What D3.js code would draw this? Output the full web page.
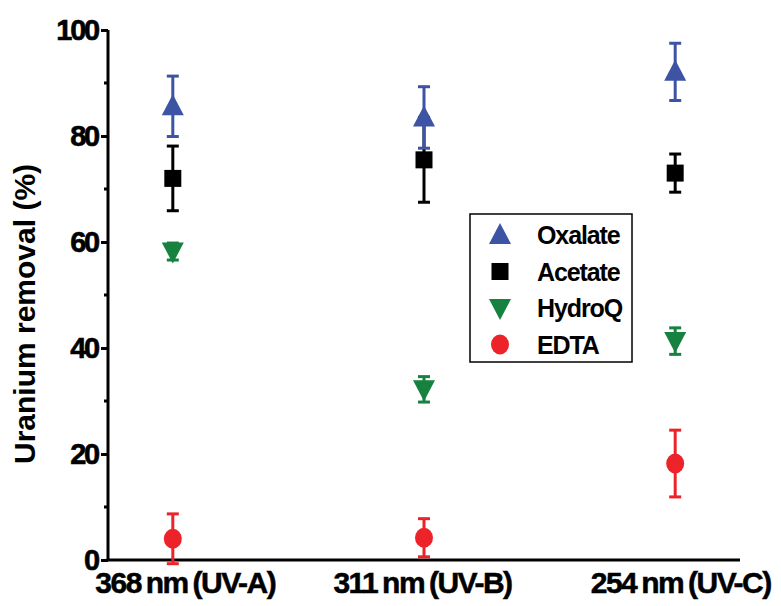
<!DOCTYPE html>
<html>
<head>
<meta charset="utf-8">
<script src="https://cdn.jsdelivr.net/npm/d3@7"></script>
<style>
  html, body { margin: 0; padding: 0; background: #fff; }
  svg { display: block; font-family: "Liberation Sans", Arial, sans-serif; }
</style>
</head>
<body>
<svg id="chart" width="781" height="606"></svg>
<script>
// Irradiation wavelengths (categories)
const categories = ["368 nm (UV-A)", "311 nm (UV-B)", "254 nm (UV-C)"];

// Uranium removal (%) per ligand, mean and error
const oxalate = [85.6, 83.5, 92.1];
const oxalateErr = [5.7, 5.8, 5.4];
const acetate = [72.0, 75.5, 73.0];
const acetateErr = [6.1, 8.0, 3.6];
const hydroq = [58.2, 32.2, 41.3];
const hydroqErr = [1.6, 2.4, 2.5];
const edta = [4.0, 4.2, 18.2];
const edtaErr = [4.7, 3.6, 6.3];

const yTicks = [0, 20, 40, 60, 80, 100];
const yMinorTicks = [10, 30, 50, 70, 90];

const seriesNames = ["Oxalate", "Acetate", "HydroQ", "EDTA"];
const seriesValues = [oxalate, acetate, hydroq, edta];
const seriesErrors = [oxalateErr, acetateErr, hydroqErr, edtaErr];
const seriesColors = ["#3D53A4", "#000000", "#17813F", "#EC2329"];
const seriesShapes = ["up", "square", "down", "circle"];

const svg = d3.select("#chart");
const plotLeft = 108, plotRight = 740, plotTop = 30, plotBottom = 560;
const fontStack = "Liberation Sans, Arial, sans-serif";

const x = d3.scalePoint().domain(categories).range([plotLeft, plotRight]).padding(0.258);
const y = d3.scaleLinear().domain([0, 100]).range([plotBottom, plotTop]);

// Marker path builders centred on (0,0)
function markerPath(shape) {
  if (shape === "up") return "M0,-12 L11,9 L-11,9 Z";
  if (shape === "down") return "M0,12 L11,-9 L-11,-9 Z";
  if (shape === "square") return "M-8.5,-8.5 H8.5 V8.5 H-8.5 Z";
  return null;
}
function drawMarker(g, shape, color) {
  if (shape === "circle") {
    g.append("ellipse").attr("rx", 9).attr("ry", 10).attr("fill", color);
  } else {
    g.append("path").attr("d", markerPath(shape)).attr("fill", color);
  }
}

// Y axis
const yAxis = svg.append("g").attr("transform", `translate(${plotLeft},0)`);
yAxis.call(d3.axisLeft(y).tickValues(yTicks).tickSize(7).tickPadding(3).tickFormat(d3.format("d")));
yAxis.select(".domain").attr("stroke", "#000").attr("stroke-width", 3).attr("d", `M0,${plotBottom}V${plotTop}`);
yAxis.selectAll(".tick line").attr("stroke", "#000").attr("stroke-width", 3);
yAxis.selectAll(".tick text")
  .attr("font-size", 29).attr("font-weight", "bold").attr("fill", "#000")
  .attr("letter-spacing", -2.2).attr("dy", "0.34em").attr("font-family", fontStack)
  .style("paint-order", "stroke").attr("stroke", "#000").attr("stroke-width", 0.6);
yAxis.selectAll(".minor").data(yMinorTicks).enter().append("line")
  .attr("class", "minor")
  .attr("x1", -4).attr("x2", 0)
  .attr("y1", d => y(d)).attr("y2", d => y(d))
  .attr("stroke", "#000").attr("stroke-width", 3);

// X axis
const xLabelShift = [12, -2, 5];
const xAxis = svg.append("g").attr("transform", `translate(0,${plotBottom})`);
xAxis.call(d3.axisBottom(x).tickSize(0).tickPadding(11));
xAxis.select(".domain").attr("stroke", "#000").attr("stroke-width", 3).attr("d", `M${plotLeft - 1.5},0H${plotRight}`);
xAxis.selectAll(".tick text")
  .attr("font-size", 30).attr("font-weight", "bold").attr("fill", "#000")
  .attr("letter-spacing", -1.5).attr("word-spacing", -2).attr("dy", "0.72em").attr("font-family", fontStack)
  .attr("dx", (d, i) => xLabelShift[i])
  .style("paint-order", "stroke").attr("stroke", "#000").attr("stroke-width", 0.5);

// Y axis title
svg.append("text")
  .attr("transform", `translate(35,${(plotTop + plotBottom) / 2 + 19}) rotate(-90)`)
  .attr("text-anchor", "middle")
  .attr("font-size", 30).attr("font-weight", "bold").attr("font-family", fontStack)
  .text("Uranium removal (%)");

// Error bars and markers (drawn bottom series first so Oxalate sits on top)
d3.range(seriesNames.length).reverse().forEach(si => {
  const vals = seriesValues[si], errs = seriesErrors[si], color = seriesColors[si];
  const g = svg.append("g").attr("class", "series");
  categories.forEach((c, i) => {
    const cx = x(c), v = vals[i], e = errs[i];
    const eb = g.append("g");
    eb.append("line").attr("x1", cx).attr("x2", cx)
      .attr("y1", y(v + e)).attr("y2", y(v - e))
      .attr("stroke", color).attr("stroke-width", 3);
    [v + e, v - e].forEach(t => {
      eb.append("line").attr("x1", cx - 6).attr("x2", cx + 6)
        .attr("y1", y(t)).attr("y2", y(t))
        .attr("stroke", color).attr("stroke-width", 3);
    });
    const m = g.append("g").attr("transform", `translate(${cx},${y(v)})`);
    drawMarker(m, seriesShapes[si], color);
  });
});

// Legend
const legend = svg.append("g").attr("transform", "translate(470,214)");
legend.append("rect").attr("x", 0).attr("y", 0).attr("width", 162).attr("height", 148)
  .attr("fill", "#fff").attr("stroke", "#000").attr("stroke-width", 1.5);
seriesNames.forEach((name, i) => {
  const row = legend.append("g").attr("transform", `translate(30,${21 + i * 36.5})`);
  drawMarker(row, seriesShapes[i], seriesColors[i]);
  row.append("text").attr("x", 37).attr("dy", "0.36em")
    .attr("font-size", 25).attr("font-weight", "bold").attr("letter-spacing", -1.1)
    .attr("font-family", fontStack)
    .text(name);
});
</script>
</body>
</html>
